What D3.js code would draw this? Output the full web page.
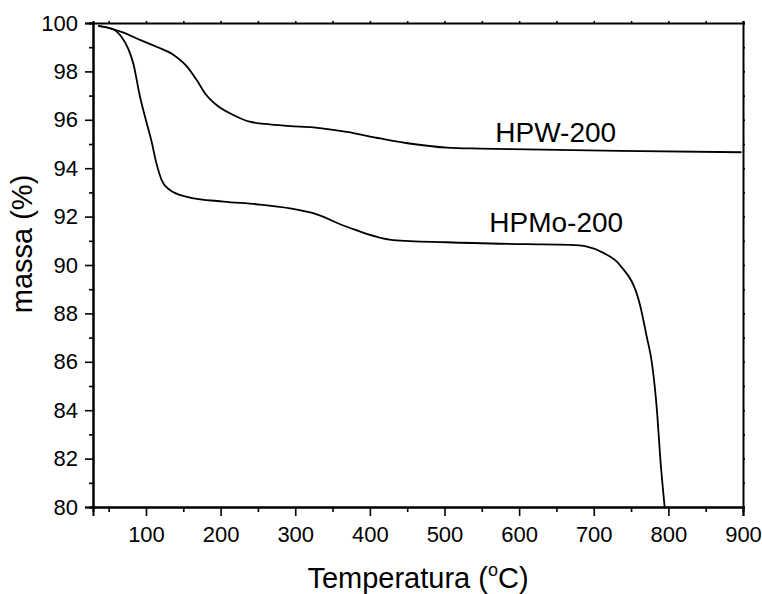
<!DOCTYPE html>
<html>
<head>
<meta charset="utf-8">
<script src="https://cdnjs.cloudflare.com/ajax/libs/d3/7.8.5/d3.min.js"></script>
<style>
  body { margin: 0; background: #fff; }
  text { font-family: "Liberation Sans", Arial, sans-serif; fill: #000; }
</style>
</head>
<body>
<div id="chart"></div>
<script>
const w = 762;
const h = 594;
const margin = {top: 23, right: 19, bottom: 87, left: 93};

// series
const hpwTemp = [36, 52, 70, 92, 114, 137, 155, 168, 179, 195, 217, 239, 266, 293, 324, 369, 414, 458, 503, 548, 610, 735, 898];
const hpwMass = [99.88, 99.78, 99.6, 99.3, 99.02, 98.68, 98.2, 97.64, 97.1, 96.6, 96.2, 95.92, 95.81, 95.74, 95.69, 95.5, 95.23, 95.0, 94.85, 94.81, 94.78, 94.72, 94.66];

const hpmoTemp = [36, 56, 67, 76, 83, 92, 101, 107, 114, 121, 132, 155, 204, 248, 293, 324, 369, 431, 503, 610, 668, 691, 713, 735, 762, 771, 778, 785, 789, 795];
const hpmoMass = [99.88, 99.74, 99.43, 98.95, 98.33, 96.95, 95.86, 95.17, 94.2, 93.51, 93.1, 92.82, 92.62, 92.51, 92.34, 92.14, 91.58, 91.03, 90.94, 90.86, 90.83, 90.76, 90.5, 90.0, 88.35, 87.04, 85.94, 83.87, 82.08, 80.0];

const seriesNames = ["HPW-200", "HPMo-200"];
const labelAnchors = [[568, 95.1], [560, 91.36]];

const xTicks = [100, 200, 300, 400, 500, 600, 700, 800, 900];
const xMinor = [50, 150, 250, 350, 450, 550, 650, 750, 850];
const yTicks = [80, 82, 84, 86, 88, 90, 92, 94, 96, 98, 100];
const yMinor = [81, 83, 85, 87, 89, 91, 93, 95, 97, 99];

const x = d3.scaleLinear().domain([29, 900]).range([margin.left, w - margin.right]);
const y = d3.scaleLinear().domain([80, 100]).range([h - margin.bottom, margin.top]);

const svg = d3.select("#chart")
    .append("svg")
    .attr("width", w)
    .attr("height", h);

// minor ticks first, then major with labels
svg.append("g")
    .attr("transform", "translate(0," + (h - margin.bottom) + ")")
    .call(d3.axisBottom(x).tickValues(xMinor).tickSize(5).tickFormat(""));
svg.append("g")
    .attr("class", "xaxis")
    .attr("transform", "translate(0," + (h - margin.bottom) + ")")
    .call(d3.axisBottom(x).tickValues(xTicks).tickSize(9).tickPadding(10));

svg.append("g")
    .attr("transform", "translate(" + margin.left + ",0)")
    .call(d3.axisLeft(y).tickValues(yMinor).tickSize(4).tickFormat(""));
svg.append("g")
    .attr("class", "yaxis")
    .attr("transform", "translate(" + margin.left + ",0)")
    .call(d3.axisLeft(y).tickValues(yTicks).tickSize(8).tickPadding(7));

// mirrored frame with tiny ticks
svg.append("g")
    .attr("transform", "translate(0," + margin.top + ")")
    .call(d3.axisTop(x).tickValues(xTicks.concat(xMinor)).tickSize(2).tickFormat(""));
svg.append("g")
    .attr("transform", "translate(" + (w - margin.right) + ",0)")
    .call(d3.axisRight(y).tickValues(yTicks.concat(yMinor)).tickSize(2).tickFormat(""));

svg.selectAll(".domain").attr("stroke", "#000").attr("stroke-width", 2);
svg.selectAll(".tick line").attr("stroke", "#000").attr("stroke-width", 1.6);
svg.selectAll(".xaxis text, .yaxis text")
    .style("font-size", "22px")
    .style("font-family", "'Liberation Sans', Arial, sans-serif");

const line = d3.line()
    .x(d => x(d[0]))
    .y(d => y(d[1]))
    .curve(d3.curveMonotoneX);

const series = [d3.zip(hpwTemp, hpwMass), d3.zip(hpmoTemp, hpmoMass)];

svg.selectAll(".curve")
    .data(series)
    .enter()
    .append("path")
    .attr("class", "curve")
    .attr("d", line)
    .attr("fill", "none")
    .attr("stroke", "#000")
    .attr("stroke-width", 1.8);

svg.selectAll(".label")
    .data(seriesNames)
    .enter()
    .append("text")
    .attr("class", "label")
    .attr("x", (d, i) => x(labelAnchors[i][0]))
    .attr("y", (d, i) => y(labelAnchors[i][1]))
    .style("font-size", "28px")
    .text(d => d);

// axis titles
const xt = svg.append("text")
    .attr("x", (margin.left + w - margin.right) / 2)
    .attr("y", 588)
    .attr("text-anchor", "middle")
    .style("font-size", "29px");
xt.append("tspan").text("Temperatura (");
xt.append("tspan").attr("dy", -12).style("font-size", "18px").text("o");
xt.append("tspan").attr("dy", 12).text("C)");

svg.append("text")
    .attr("transform", "translate(32," + 244 + ") rotate(-90)")
    .attr("text-anchor", "middle")
    .style("font-size", "29px")
    .text("massa (%)");
</script>
</body>
</html>
